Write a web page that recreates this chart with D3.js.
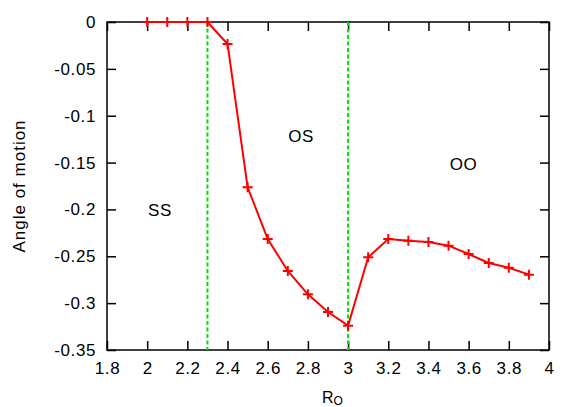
<!DOCTYPE html>
<html lang="en">
  <head>
    <meta charset="utf-8">
    <title>Angle of motion vs R_O</title>
    <style>
      body{ margin:0; background:#fff; }
      text{ font-family: "Liberation Sans", Arial, sans-serif; fill:#000; }
    </style>
    <script type="text/javascript" src="https://cdn.jsdelivr.net/npm/d3@7"></script>
  </head>
  <body>
  <svg width="581" height="407"></svg>
    <script>
// data
var ro    = [2.0, 2.1, 2.2, 2.3, 2.4, 2.5, 2.6, 2.7, 2.8, 2.9, 3.0, 3.1, 3.2, 3.3, 3.4, 3.5, 3.6, 3.7, 3.8, 3.9];
var angle = [0, 0, 0, 0, -0.0235, -0.1764, -0.2316, -0.2657, -0.2906, -0.3095, -0.324, -0.2511, -0.2316, -0.2334, -0.2348, -0.2387, -0.2476, -0.2572, -0.2622, -0.2696];
var borders = [2.3, 3.0];
var regionNames = ["SS", "OS", "OO"];
var regionX = [2.064, 2.766, 3.575];
var regionY = [-0.2067, -0.1277, -0.158];
var xTicks = [1.8, 2, 2.2, 2.4, 2.6, 2.8, 3, 3.2, 3.4, 3.6, 3.8, 4];
var yTicks = [0, -0.05, -0.1, -0.15, -0.2, -0.25, -0.3, -0.35];

var svg = d3.select("svg"),
    margin = {top: 22, right: 32, bottom: 57, left: 107},
    width = svg.attr("width") - margin.left - margin.right,
    height = svg.attr("height") - margin.top - margin.bottom;
var g = svg.append("g")
    .attr("transform", "translate(" + margin.left + "," + margin.top + ")");

var xScale = d3.scaleLinear().domain([1.8, 4]).range([0, width]);
var yScale = d3.scaleLinear().domain([-0.35, 0]).range([height, 0]);

var fmt = function(d){ return String(+d.toFixed(2)); };
var tick = 9;

// axes with inward ticks, mirrored on top and right
function styleAxis(sel){
  sel.select(".domain").remove();
  sel.selectAll(".tick line").attr("stroke", "#000").attr("stroke-width", 1.5);
  sel.selectAll(".tick text").style("font-size", "17px").style("letter-spacing", "0.6px");
}
g.append("g").attr("transform", "translate(0," + height + ")")
  .call(d3.axisBottom(xScale).tickValues(xTicks).tickFormat(fmt).tickSizeInner(-tick).tickPadding(12))
  .call(styleAxis);
g.append("g")
  .call(d3.axisTop(xScale).tickValues(xTicks).tickFormat("").tickSizeInner(-tick))
  .call(styleAxis);
g.append("g")
  .call(d3.axisLeft(yScale).tickValues(yTicks).tickFormat(fmt).tickSizeInner(-tick).tickPadding(11))
  .call(styleAxis);
g.append("g").attr("transform", "translate(" + width + ",0)")
  .call(d3.axisRight(yScale).tickValues(yTicks).tickFormat("").tickSizeInner(-tick))
  .call(styleAxis);

g.append("rect")
  .attr("width", width).attr("height", height)
  .attr("fill", "none").attr("stroke", "#000").attr("stroke-width", 1.5);

// region borders
g.selectAll(".border")
  .data(borders).enter().append("line")
  .attr("class", "border")
  .attr("x1", function(d){ return xScale(d); })
  .attr("x2", function(d){ return xScale(d); })
  .attr("y1", 0).attr("y2", height)
  .attr("stroke", "#00e000").attr("stroke-width", 2)
  .attr("stroke-dasharray", "4,2.5");

// curve
var pts = ro.map(function(d, i){ return [d, angle[i]]; });
g.append("path")
  .datum(pts)
  .attr("fill", "none").attr("stroke", "#ff0000").attr("stroke-width", 2)
  .attr("d", d3.line().x(function(d){ return xScale(d[0]); }).y(function(d){ return yScale(d[1]); }));

g.selectAll(".pt")
  .data(pts).enter().append("path")
  .attr("class", "pt")
  .attr("transform", function(d){ return "translate(" + xScale(d[0]) + "," + yScale(d[1]) + ")"; })
  .attr("d", "M-5,0H5M0,-5V5")
  .attr("stroke", "#ff0000").attr("stroke-width", 2);

// region labels
g.selectAll(".region")
  .data(regionNames).enter().append("text")
  .attr("class", "region")
  .attr("x", function(d, i){ return xScale(regionX[i]); })
  .attr("y", function(d, i){ return yScale(regionY[i]); })
  .attr("text-anchor", "middle")
  .style("font-size", "17px")
  .style("letter-spacing", "0.6px")
  .text(function(d){ return d; });

// axis titles
svg.append("text")
  .attr("transform", "translate(25," + (margin.top + height / 2) + ") rotate(-90)")
  .attr("text-anchor", "middle")
  .style("font-size", "17px")
  .style("letter-spacing", "1px")
  .text("Angle of motion");

var xl = svg.append("text")
  .attr("x", 322)
  .attr("y", 403)
  .style("font-size", "16px");
xl.append("tspan").text("R");
xl.append("tspan").attr("dy", 2).style("font-size", "12px").text("O");
    </script>
  </body>
</html>
